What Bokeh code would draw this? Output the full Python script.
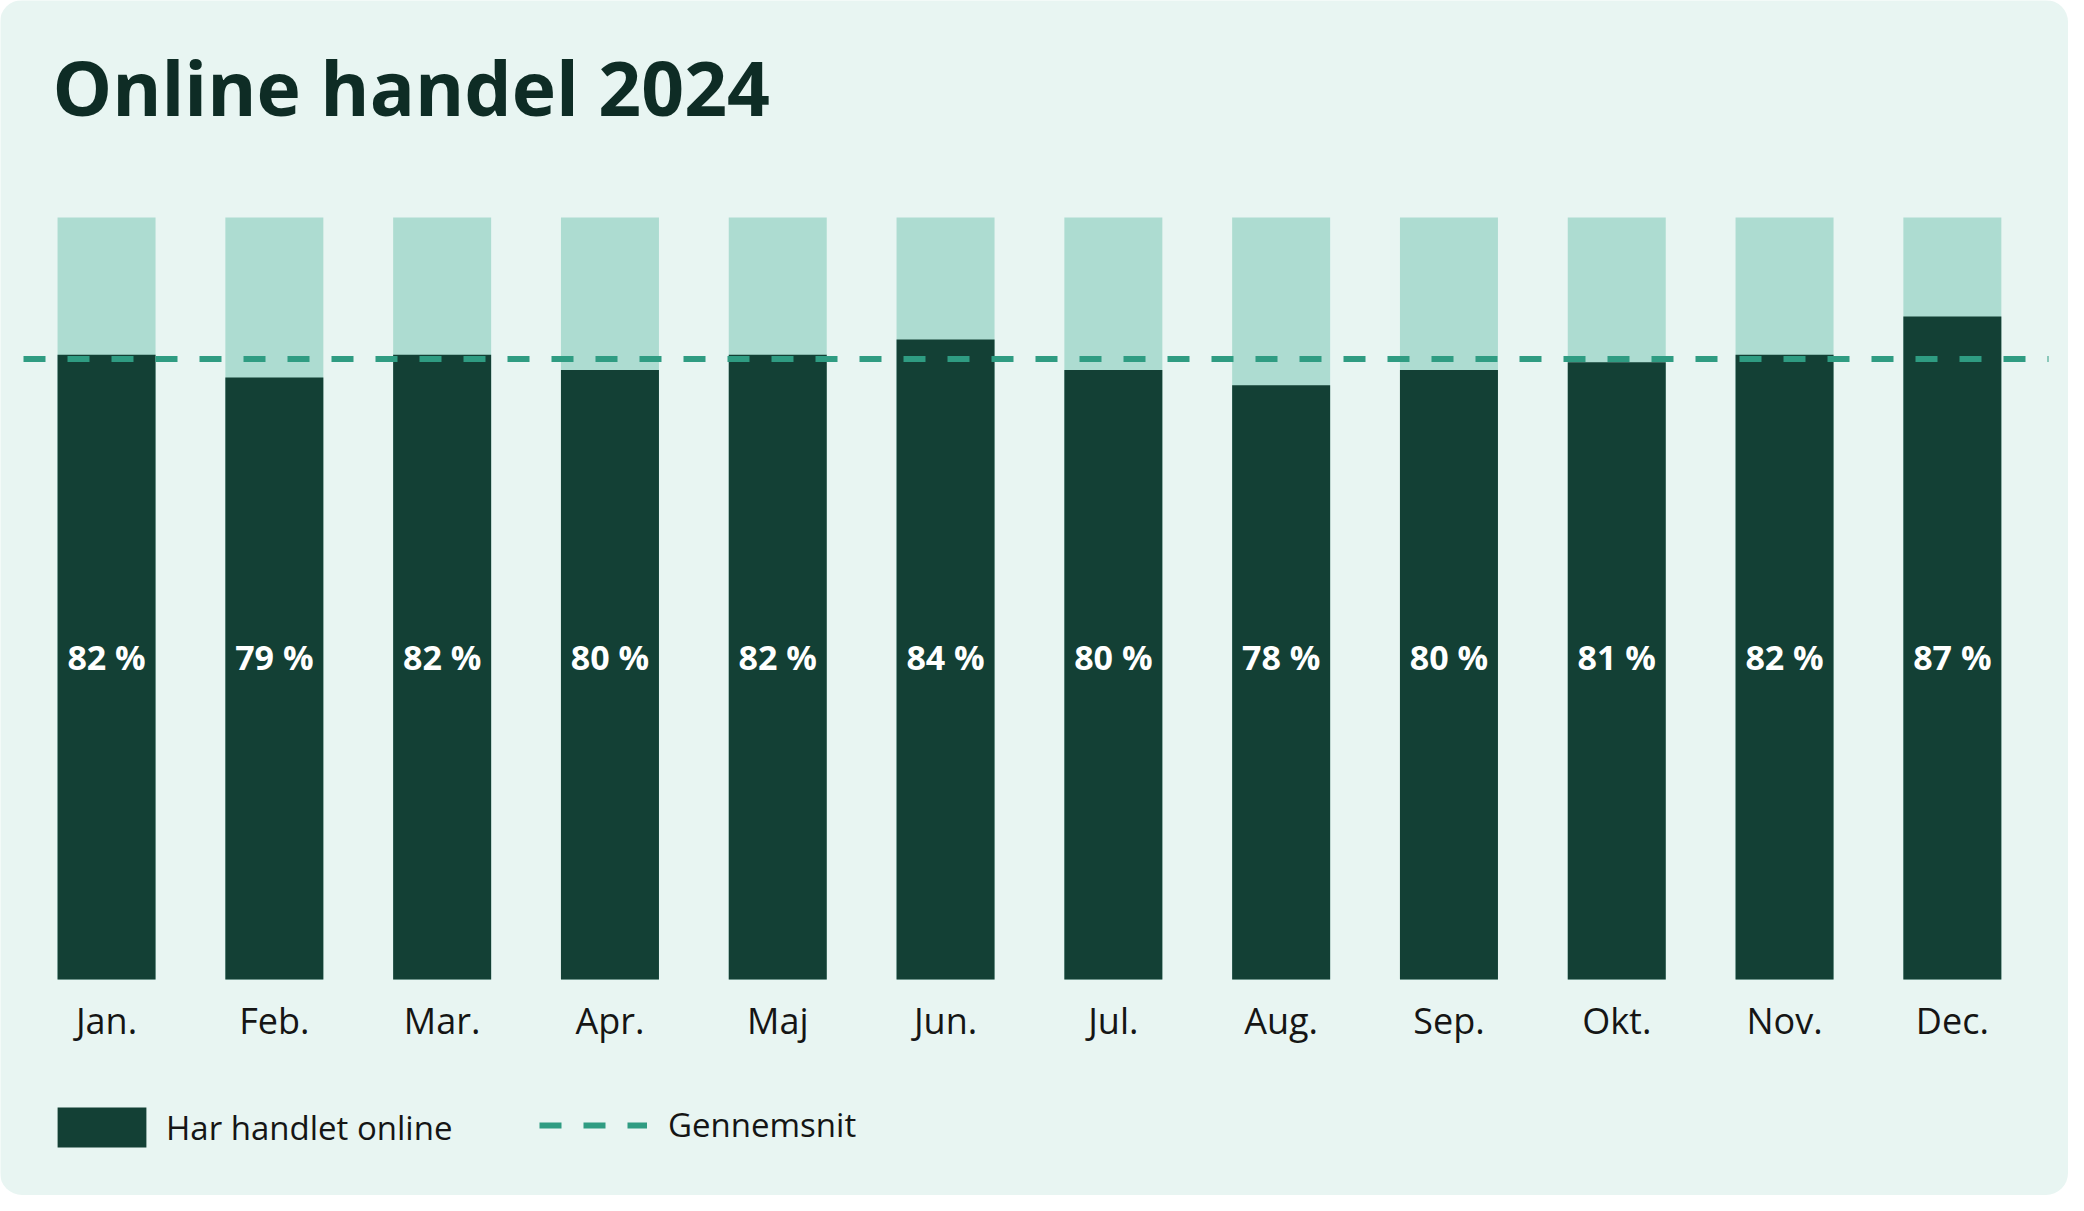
from bokeh.plotting import figure
from bokeh.models import Range1d, Label, Legend, LegendItem, ColumnDataSource
from bokeh.embed import file_html
from bokeh.resources import INLINE
from bokeh.core.properties import value

# ---- data ----
months = ["Jan.", "Feb.", "Mar.", "Apr.", "Maj", "Jun.", "Jul.", "Aug.", "Sep.", "Okt.", "Nov.", "Dec."]
shares = [82, 79, 82, 80, 82, 84, 80, 78, 80, 81, 82, 87]
total = [100] * 12
title_text = "Online handel 2024"
legend_bar = "Har handlet online"
legend_line = "Gennemsnit"

average = sum(shares) / len(shares)
labels = [f"{v} %" for v in shares]
idx = list(range(len(months)))

# ---- geometry ----
W, H = 2068, 1195
BASE = 979                   # px from top of the bar baseline
XSTEP = 167.8                # px per category
X0 = -0.632                  # data x at left canvas edge
YS = 7.62                    # px per percent


def dx(px):
    return X0 + px / XSTEP


def dy(px_top):
    return (BASE - px_top) / YS


BG = "#e8f5f2"
DARK = "#134035"
LIGHT = "#addcd1"
DASH = "#2f9c82"
INK = "#0e2c25"
TXT = "#151515"
FONT = "Open Sans"

p = figure(width=W, height=H, output_backend="svg", toolbar_location=None,
           title_location=None, y_axis_location=None, x_axis_location=None,
           x_range=Range1d(dx(0), dx(W)), y_range=Range1d(dy(H), dy(0)),
           min_border_left=0, min_border_right=0, min_border_top=0,
           min_border_bottom=0)
p.background_fill_color = BG
p.border_fill_color = BG
p.outline_line_color = None
p.grid.visible = False
p.styles = {"border-radius": "22px", "overflow": "hidden"}

src = ColumnDataSource(dict(x=idx, total=total, share=shares, label=labels,
                            month=months))

p.vbar(x="x", top="total", bottom=0, width=0.584, source=src,
       fill_color=LIGHT, line_color=None)
dark = p.vbar(x="x", top="share", bottom=0, width=0.584, source=src,
              fill_color=DARK, line_color=None)
avg = p.segment(x0=[dx(23)], x1=[dx(2048)], y0=[average], y1=[average],
                line_color=DASH, line_width=6, line_dash="22 22")

# value labels inside bars
p.text(x="x", y=dy(656), text="label", source=src, text_align="center",
       text_baseline="middle", text_color="white", text_font=value(FONT),
       text_font_size="34px", text_font_style="bold")

# month (category) labels under bars
p.text(x="x", y=dy(1020), text="month", source=src, text_align="center",
       text_baseline="middle", text_color=TXT, text_font=value(FONT),
       text_font_size="36px")

p.add_layout(Label(x=dx(52), y=dy(86), text=title_text, text_font=FONT,
                   text_font_size="75px", text_font_style="bold",
                   text_color=INK, text_baseline="alphabetic"))

common = dict(orientation="horizontal", padding=0, margin=0,
              spacing=0, border_line_color=None, background_fill_alpha=0,
              label_text_font=FONT, label_text_font_size="33px",
              label_text_color=TXT)
leg1 = Legend(items=[LegendItem(label=legend_bar, renderers=[dark])],
              location=(46, 43), glyph_width=111, glyph_height=50,
              label_standoff=9, **common)
leg2 = Legend(items=[LegendItem(label=legend_line, renderers=[avg])],
              location=(539, 48), glyph_width=108, glyph_height=40,
              label_standoff=21, **common)
p.add_layout(leg1)
p.add_layout(leg2)

open("out.html", "w").write(file_html(p, INLINE))
